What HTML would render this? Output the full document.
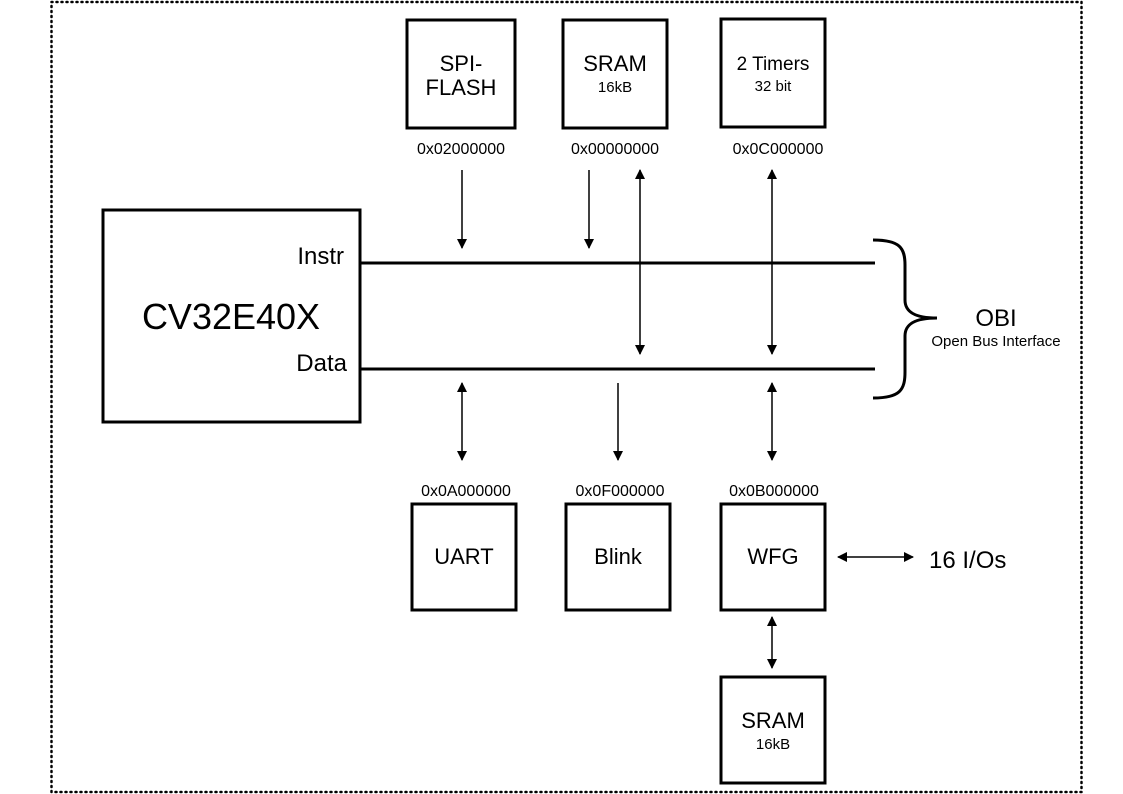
<!DOCTYPE html>
<html><head><meta charset="utf-8"><style>
html,body{margin:0;padding:0;background:#fff;}
svg{display:block;font-family:"Liberation Sans",sans-serif;}
</style></head><body>
<svg width="1123" height="794" viewBox="0 0 1123 794" xmlns="http://www.w3.org/2000/svg">
<defs>
<marker id="a" markerWidth="10" markerHeight="10" refX="9" refY="5" orient="auto-start-reverse" markerUnits="userSpaceOnUse" viewBox="0 0 10 10">
<path d="M0,0 L10,5 L0,10 z" fill="#000"/></marker>
</defs>
<rect x="51.5" y="2" width="1030" height="790" fill="none" stroke="#000" stroke-width="2.5" stroke-dasharray="1 4" stroke-linecap="round"/>
<g fill="none" stroke="#000" stroke-width="3">
<rect x="407" y="20" width="108" height="108"/>
<rect x="563" y="20" width="104" height="108"/>
<rect x="721" y="19" width="104" height="108"/>
<rect x="103" y="210" width="257" height="212"/>
<rect x="412" y="504" width="104" height="106"/>
<rect x="566" y="504" width="104" height="106"/>
<rect x="721" y="504" width="104" height="106"/>
<rect x="721" y="677" width="104" height="106"/>
<line x1="361" y1="263" x2="875" y2="263"/>
<line x1="361" y1="369" x2="875" y2="369"/>
<path d="M873,240 C900,240 905,248 905,265 L905,300 C905,312 915,318 937,318 C915,318 905,324 905,336 L905,372 C905,390 900,398 873,398"/>
</g>
<g stroke="#000" stroke-width="1.5">
<line x1="462" y1="170" x2="462" y2="248" marker-end="url(#a)"/>
<line x1="589" y1="170" x2="589" y2="248" marker-end="url(#a)"/>
<line x1="640" y1="170" x2="640" y2="354" marker-end="url(#a)" marker-start="url(#a)"/>
<line x1="772" y1="170" x2="772" y2="354" marker-end="url(#a)" marker-start="url(#a)"/>
<line x1="462" y1="383" x2="462" y2="460" marker-end="url(#a)" marker-start="url(#a)"/>
<line x1="618" y1="383" x2="618" y2="460" marker-end="url(#a)"/>
<line x1="772" y1="383" x2="772" y2="460" marker-end="url(#a)" marker-start="url(#a)"/>
<line x1="772" y1="617" x2="772" y2="668" marker-end="url(#a)" marker-start="url(#a)"/>
<line x1="838" y1="557" x2="913" y2="557" marker-end="url(#a)" marker-start="url(#a)"/>
</g>
<g fill="#000" text-anchor="middle">
<text x="461" y="71" font-size="22">SPI-</text>
<text x="461" y="95" font-size="22">FLASH</text>
<text x="615" y="71" font-size="22">SRAM</text>
<text x="615" y="92" font-size="15">16kB</text>
<text x="773" y="70" font-size="19">2 Timers</text>
<text x="773" y="91" font-size="15">32 bit</text>
<text x="461" y="154" font-size="16">0x02000000</text>
<text x="615" y="154" font-size="16">0x00000000</text>
<text x="778" y="154" font-size="16">0x0C000000</text>
<text x="231" y="329" font-size="36">CV32E40X</text>
<text x="466" y="496" font-size="16">0x0A000000</text>
<text x="620" y="496" font-size="16">0x0F000000</text>
<text x="774" y="496" font-size="16">0x0B000000</text>
<text x="464" y="564" font-size="22">UART</text>
<text x="618" y="564" font-size="22">Blink</text>
<text x="773" y="564" font-size="22">WFG</text>
<text x="773" y="728" font-size="22">SRAM</text>
<text x="773" y="749" font-size="15">16kB</text>
<text x="996" y="326" font-size="24">OBI</text>
<text x="996" y="346" font-size="15">Open Bus Interface</text>
</g>
<g fill="#000" text-anchor="end" font-size="24">
<text x="344" y="264">Instr</text>
<text x="347" y="371">Data</text>
</g>
<text x="929" y="568" font-size="24" fill="#000">16 I/Os</text>
</svg>
</body></html>
